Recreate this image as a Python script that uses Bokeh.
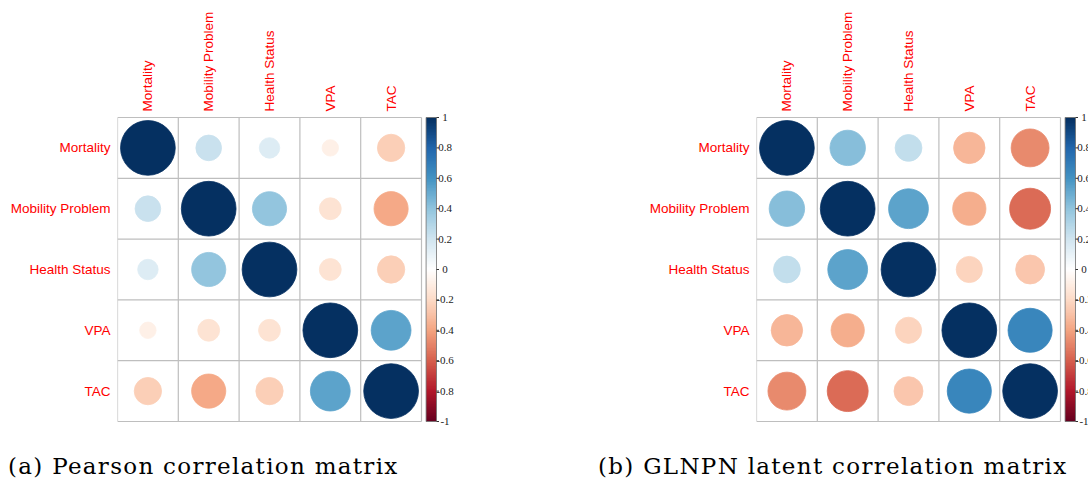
import numpy as np
from bokeh.plotting import figure
from bokeh.models import Range1d, FixedTicker, LinearColorMapper, Div, ColumnDataSource
from bokeh.layouts import row, column
from bokeh.transform import linear_cmap
from bokeh.embed import file_html
from bokeh.resources import INLINE

# ---------------- data ----------------
variables = ["Mortality", "Mobility Problem", "Health Status", "VPA", "TAC"]

pearson = [
    [1.00, 0.22, 0.14, -0.09, -0.25],
    [0.22, 1.00, 0.39, -0.16, -0.39],
    [0.14, 0.39, 1.00, -0.16, -0.25],
    [-0.09, -0.16, -0.16, 1.00, 0.53],
    [-0.25, -0.39, -0.25, 0.53, 1.00],
]

glnpn = [
    [1.00, 0.42, 0.24, -0.33, -0.48],
    [0.42, 1.00, 0.53, -0.37, -0.56],
    [0.24, 0.53, 1.00, -0.23, -0.28],
    [-0.33, -0.37, -0.23, 1.00, 0.65],
    [-0.48, -0.56, -0.28, 0.65, 1.00],
]

legend_ticks = [1, 0.8, 0.6, 0.4, 0.2, 0, -0.2, -0.4, -0.6, -0.8, -1]
legend_labels = ["1", "0.8", "0.6", "0.4", "0.2", "0", "-0.2", "-0.4", "-0.6", "-0.8", "-1"]

captions = ["(a) Pearson correlation matrix", "(b) GLNPN latent correlation matrix"]

# corrplot RdBu ramp (200 colours)
anchors = ["#67001F", "#B2182B", "#D6604D", "#F4A582", "#FDDBC7", "#FFFFFF",
           "#D1E5F0", "#92C5DE", "#4393C3", "#2166AC", "#053061"]


def ramp(cols, n):
    rgb = np.array([[int(c[i:i + 2], 16) for i in (1, 3, 5)] for c in cols], float)
    pos = np.linspace(0, 1, len(cols))
    t = np.linspace(0, 1, n)
    out = []
    for k in range(n):
        r = [np.interp(t[k], pos, rgb[:, ch]) for ch in range(3)]
        out.append("#%02X%02X%02X" % tuple(int(round(v)) for v in r))
    return out


palette = ramp(anchors, 200)

# ---------------- layout constants ----------------
CELL = 60.8          # px per matrix cell
GRID_PX = 304        # 5 cells
PAD_PX = 6           # extra room above / below grid inside the frame
GRID_TOP = 117
LABEL_FONT = "Liberation Sans"
LABEL_SIZE = "13.5px"
GRID_COL = "#BEBEBE"


def panel(mat, frame_w, border_left):
    n = len(variables)
    xs, ys, vals, rads = [], [], [], []
    for i in range(n):
        for j in range(n):
            xs.append(j + 0.5)
            ys.append(n - i - 0.5)
            vals.append(mat[i][j])
            rads.append(0.45 * np.sqrt(abs(mat[i][j])))
    src = ColumnDataSource(dict(x=xs, y=ys, r=vals, rad=rads))

    pad = PAD_PX / CELL
    p = figure(output_backend="svg", toolbar_location=None,
               x_range=Range1d(0, frame_w / CELL), y_range=Range1d(-pad, n + pad),
               frame_width=frame_w, frame_height=GRID_PX + 2 * PAD_PX,
               min_border_left=border_left, min_border_top=GRID_TOP - PAD_PX,
               min_border_right=0, min_border_bottom=0,
               x_axis_location="above")
    p.outline_line_color = None
    p.xgrid.visible = False
    p.ygrid.visible = False
    p.background_fill_color = "white"
    p.border_fill_color = "white"

    centers = [k + 0.5 for k in range(n)]
    p.xaxis.ticker = FixedTicker(ticks=centers)
    p.xaxis.major_label_overrides = {c: v for c, v in zip(centers, variables)}
    p.yaxis.ticker = FixedTicker(ticks=centers)
    p.yaxis.major_label_overrides = {c: v for c, v in zip(centers, variables[::-1])}
    for ax in (p.xaxis[0], p.yaxis[0]):
        ax.axis_line_color = None
        ax.major_tick_line_color = None
        ax.minor_tick_line_color = None
        ax.major_tick_in = 0
        ax.major_tick_out = 0
        ax.major_label_text_color = "#FF0000"
        ax.major_label_text_font = LABEL_FONT
        ax.major_label_text_font_size = LABEL_SIZE
    p.xaxis.major_label_orientation = "vertical"
    p.xaxis.major_label_standoff = 0
    p.yaxis.major_label_standoff = 7

    # cell grid
    edges = list(range(n + 1))
    p.segment(x0=edges, x1=edges, y0=[0] * (n + 1), y1=[n] * (n + 1),
              line_color=GRID_COL, line_width=1.2)
    p.segment(x0=[0] * (n + 1), x1=[n] * (n + 1), y0=edges, y1=edges,
              line_color=GRID_COL, line_width=1.2)

    cmap = linear_cmap("r", palette, -1, 1)
    p.circle(x="x", y="y", radius="rad", source=src,
             fill_color=cmap, line_color=cmap, line_width=0.8)

    # colour legend (its own y scale: -1..1 spans the grid height)
    cpad = pad * 2.0 / n
    p.extra_y_ranges = {"cb": Range1d(-1 - cpad, 1 + cpad)}
    mapper = LinearColorMapper(palette=palette, low=-1, high=1)
    grad = np.linspace(-1, 1, 200).reshape(200, 1)
    cb_x0 = n + 4.6 / CELL
    cb_w = 10.4 / CELL
    p.image(image=[grad], x=cb_x0, y=-1, dw=cb_w, dh=2, color_mapper=mapper,
            y_range_name="cb")
    p.quad(left=[cb_x0], right=[cb_x0 + cb_w], bottom=[-1], top=[1],
           fill_color=None, line_color="#6E6E6E", line_width=0.8, y_range_name="cb")
    m = len(legend_ticks)
    p.segment(x0=[cb_x0 + cb_w] * m, x1=[cb_x0 + cb_w + 2.5 / CELL] * m,
              y0=legend_ticks, y1=legend_ticks, line_color="#333333",
              line_width=1, y_range_name="cb")
    p.text(x=[cb_x0 + cb_w + 8.5 / CELL] * m, y=legend_ticks, text=legend_labels,
           text_align="center", text_baseline="middle", text_font_size="11px",
           text_font=LABEL_FONT, text_color="#1A1A1A", y_range_name="cb")
    return p


p1 = panel(pearson, 344, 117)
p2 = panel(glnpn, 332, 295)


def caption(txt, w):
    return Div(text=('<div style="font-family:\'DejaVu Serif\';font-size:23px;'
                     'letter-spacing:1.3px;line-height:1;padding-top:28px;'
                     'padding-left:8px;white-space:nowrap;color:#000">'
                     + txt + '</div>'),
               width=w, height=52, margin=(0, 0, 0, 0))


layout = column(row(p1, p2), row(caption(captions[0], 590), caption(captions[1], 490)))

open("out.html", "w").write(file_html(layout, INLINE))
